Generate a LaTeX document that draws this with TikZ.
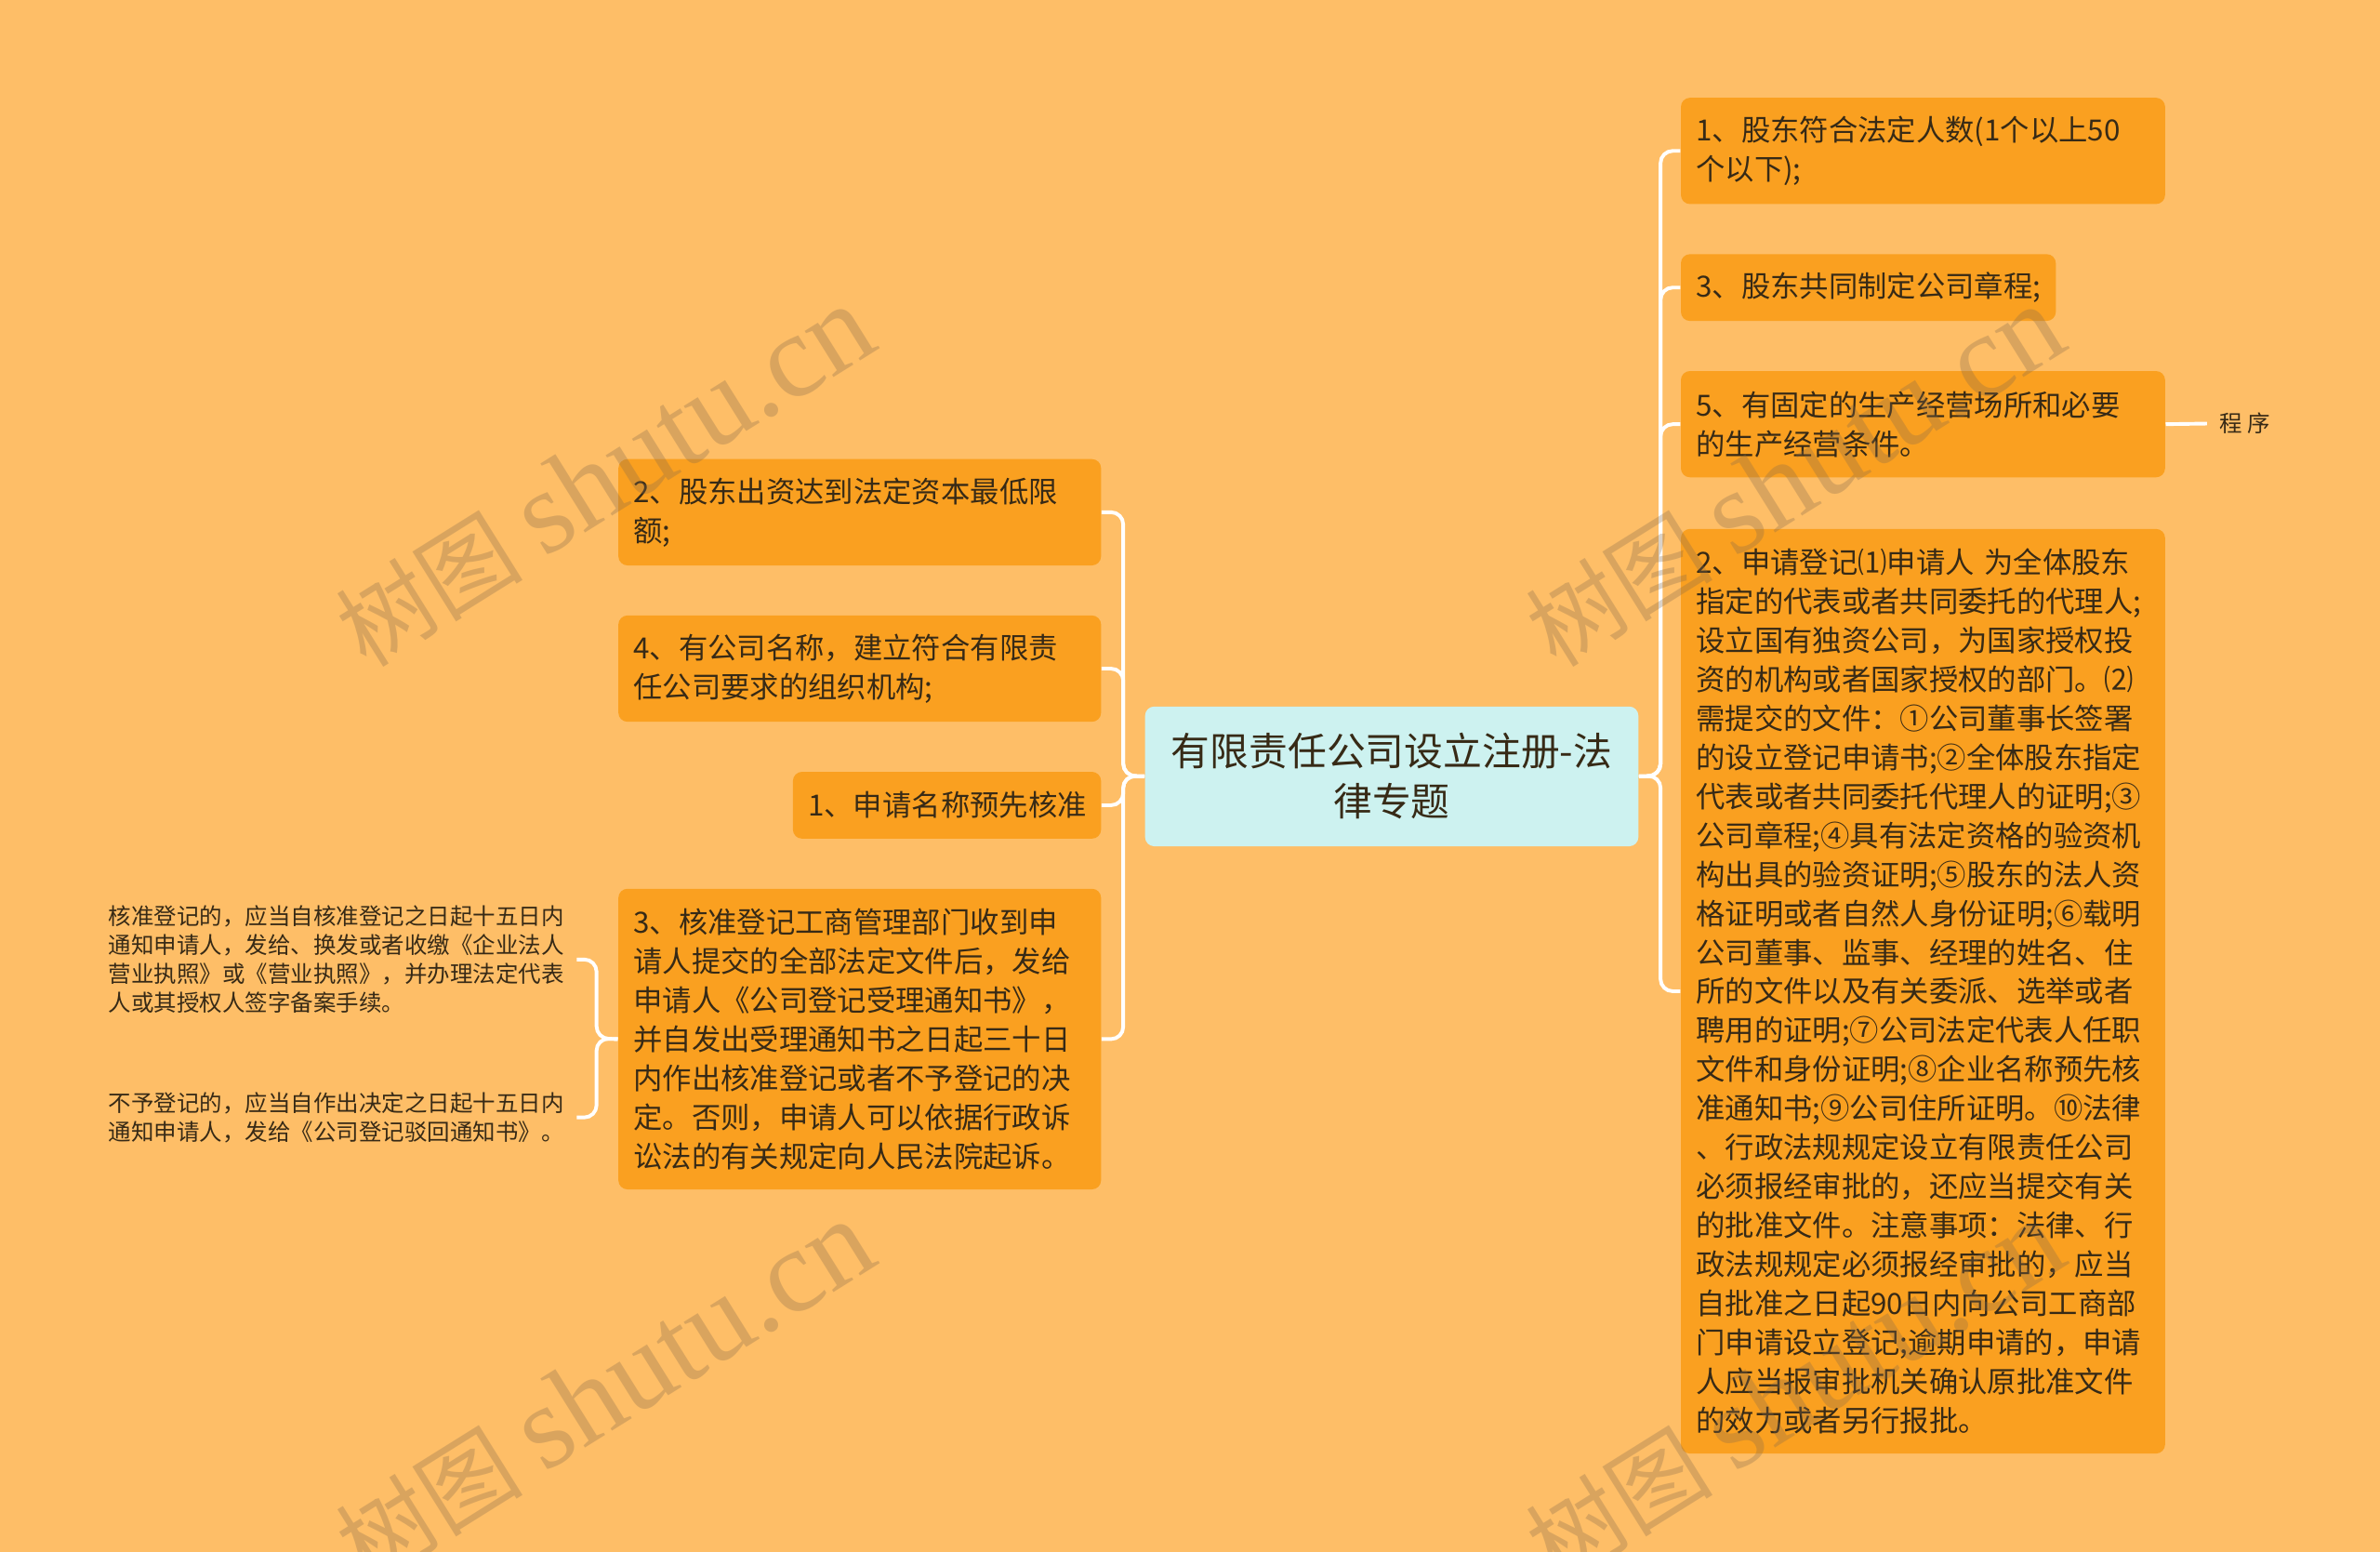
\documentclass[tikz,border=0pt]{standalone}
\usepackage{fontspec}
\setmainfont{Noto Sans CJK SC}
\newfontfamily\markfont{Liberation Serif}
\definecolor{paper}{RGB}{254,190,103}
\definecolor{leaf}{RGB}{250,160,32}
\definecolor{topic}{RGB}{205,242,240}
\definecolor{ink}{RGB}{55,42,22}
\definecolor{stamp}{RGB}{134,107,76}
\hfuzz=30pt
\begin{document}
\begin{tikzpicture}[x=0.5pt,y=-0.5pt,
	item/.style={fill=leaf,rounded corners=3pt,anchor=north west,inner xsep=5pt,inner ysep=2pt,align=left,text=ink,font=\fontsize{9.6}{12.85}\selectfont},
	note/.style={inner xsep=4pt,inner ysep=0pt,align=left,text=ink,font=\fontsize{7.5}{9.5}\selectfont},
	link/.style={draw=white,line width=1.2pt,rounded corners=4pt},
	wmark/.style={rotate=32,text=stamp,opacity=0.3,font=\fontsize{31}{31}\selectfont}]
	\useasboundingbox (0,0) rectangle (1568,1022);
	\fill[paper] (0,0) rectangle (1568,1022);
	\node[fill=topic,rounded corners=3pt,anchor=north west,minimum width=162.5pt,minimum height=46pt,align=center,text=ink,font=\fontsize{12.8}{16.5}\selectfont] (root) at (754,465) {有限责任公司设立注册-法\\律专题};
	\node[item,text width=149.5pt,minimum height=35pt] (r1) at (1107,64) {1、股东符合法定人数(1个以上50\\个以下);};
	\node[item,text width=113.5pt,minimum height=22pt] (r3) at (1107,167) {3、股东共同制定公司章程;};
	\node[item,text width=149.5pt,minimum height=35pt] (r5) at (1107,244) {5、有固定的生产经营场所和必要\\的生产经营条件。};
	\node[item,text width=149.5pt,minimum height=304.5pt] (r2) at (1107,348) {2、申请登记⑴申请人 为全体股东\\指定的代表或者共同委托的代理人;\\设立国有独资公司，为国家授权投\\资的机构或者国家授权的部门。⑵\\需提交的文件：①公司董事长签署\\的设立登记申请书;②全体股东指定\\代表或者共同委托代理人的证明;③\\公司章程;④具有法定资格的验资机\\构出具的验资证明;⑤股东的法人资\\格证明或者自然人身份证明;⑥载明\\公司董事、监事、经理的姓名、住\\所的文件以及有关委派、选举或者\\聘用的证明;⑦公司法定代表人任职\\文件和身份证明;⑧企业名称预先核\\准通知书;⑨公司住所证明。⑩法律\\、行政法规规定设立有限责任公司\\必须报经审批的，还应当提交有关\\的批准文件。注意事项：法律、行\\政法规规定必须报经审批的，应当\\自批准之日起90日内向公司工商部\\门申请设立登记;逾期申请的，申请\\人应当报审批机关确认原批准文件\\的效力或者另行报批。};
	\node[note,anchor=west] (prog) at (1454,279) {程 序};
	\node[item,text width=149pt,minimum height=35pt] (l2) at (407,302) {2、股东出资达到法定资本最低限\\额;};
	\node[item,text width=149pt,minimum height=35pt] (l4) at (407,405) {4、有公司名称，建立符合有限责\\任公司要求的组织机构;};
	\node[item,text width=91.5pt,minimum height=22pt] (l1) at (522,508) {1、申请名称预先核准};
	\node[item,text width=149pt,minimum height=99pt] (l3) at (407,585) {3、核准登记工商管理部门收到申\\请人提交的全部法定文件后，发给\\申请人《公司登记受理通知书》，\\并自发出受理通知书之日起三十日\\内作出核准登记或者不予登记的决\\定。否则，申请人可以依据行政诉\\讼法的有关规定向人民法院起诉。};
	\node[note,anchor=east] (ok) at (380,632) {核准登记的，应当自核准登记之日起十五日内\\通知申请人，发给、换发或者收缴《企业法人\\营业执照》或《营业执照》，并办理法定代表\\人或其授权人签字备案手续。};
	\node[note,anchor=east] (no) at (380,736) {不予登记的，应当自作出决定之日起十五日内\\通知申请人，发给《公司登记驳回通知书》。};
	\draw[link] (root.east) -- (1094,511) |- (r1.west);
	\draw[link] (root.east) -- (1094,511) |- (r3.west);
	\draw[link] (root.east) -- (1094,511) |- (r5.west);
	\draw[link] (root.east) -- (1094,511) |- (r2.west);
	\draw[link] (r5.east) -- (prog.west);
	\draw[link] (root.west) -- (740,511) |- (l2.east);
	\draw[link] (root.west) -- (740,511) |- (l4.east);
	\draw[link] (root.west) -- (740,511) |- (l1.east);
	\draw[link] (root.west) -- (740,511) |- (l3.east);
	\draw[link] (l3.west) -- (393,684) |- (ok.east);
	\draw[link] (l3.west) -- (393,684) |- (no.east);
	\begin{scope}
		\clip (0,0) rectangle (1568,1022);
		\foreach \wx/\wy in {398/314,398/917,1182/314,1182/917}
			\node[wmark] at (\wx,\wy) {树图 {\markfont\fontsize{39}{39}\selectfont shutu.cn}};
	\end{scope}
\end{tikzpicture}
\end{document}
